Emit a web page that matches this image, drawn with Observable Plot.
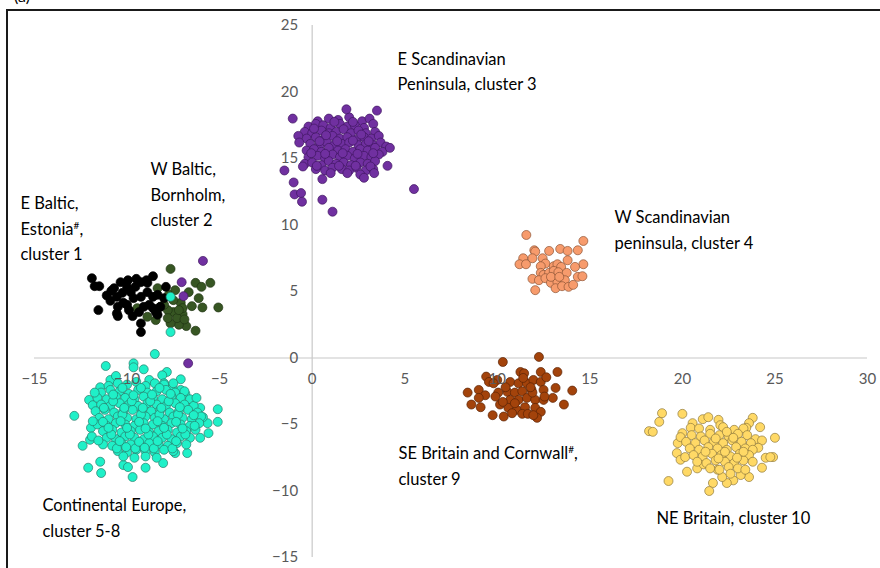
<!DOCTYPE html>
<html>
<head>
<meta charset="utf-8">
<script src="https://cdn.jsdelivr.net/npm/d3@7"></script>
<script src="https://cdn.jsdelivr.net/npm/@observablehq/plot@0.6"></script>
<style>
  html, body { margin: 0; padding: 0; background: #fff; overflow: hidden; }
  #wrap { position: relative; width: 880px; height: 568px; }
  #frame { position: absolute; left: 6px; top: 9px; width: 900px; height: 600px;
           border-left: 2px solid #1a1a1a; border-top: 2px solid #1a1a1a; box-sizing: border-box; }
  #tag { position: absolute; left: 14px; top: -14px; font: 16px Lato, sans-serif; color: #000; }
  #chart { position: absolute; left: 0; top: 0; }
</style>
</head>
<body>
<div id="wrap"><div id="tag">(a)</div><div id="frame"></div><div id="chart"></div></div>
<script>
const xTicks = [-15, -10, -5, 0, 5, 10, 15, 20, 25, 30];
const yTicks = [-15, -10, -5, 0, 5, 10, 15, 20, 25];

const labels = [
  {x: -15.76, y: 12.55, text: "E Baltic,\nEstonia#,\ncluster 1"},
  {x: -8.74, y: 15.1, text: "W Baltic,\nBornholm,\ncluster 2"},
  {x: 4.61, y: 23.4, text: "E Scandinavian\nPeninsula, cluster 3"},
  {x: 16.33, y: 11.5, text: "W Scandinavian\npeninsula, cluster 4"},
  {x: -14.57, y: -10.15, text: "Continental Europe,\ncluster 5-8"},
  {x: 4.66, y: -6.25, text: "SE Britain and Cornwall#,\ncluster 9"},
  {x: 18.6, y: -11.1, text: "NE Britain, cluster 10"}
];

// cluster 1: E Baltic, Estonia
const cluster1 = [[-11.9,6.0],[-11.75,5.4],[-11.5,5.4],[-10.85,5.05],[-11.55,3.6],[-10.55,3.35],[-10.5,3.15],
 [-9.95,5.85],[-9.5,5.95],[-8.95,5.85],[-8.6,6.15],[-9.7,3.15],[-9.25,2.6],[-9.25,1.95],[-10.55,4.6],[-10.25,4.9],
 [-10.2,4.15],[-9.8,4.95],[-9.55,5.35],[-9.25,4.6],[-8.9,4.95],[-8.6,4.6],[-8.35,4.75],[-8.0,4.5],[-7.9,5.35],
 [-9.1,3.85],[-8.8,4.0],[-8.6,3.75],[-8.35,3.25],[-8.45,3.45],[-10.5,3.85],[-10.0,4.0],[-9.65,4.5],[-8.9,5.65],
 [-9.25,5.7],[-10.35,5.7],[-10.7,5.25],[-9.35,3.45],[-10.0,5.35],[-8.2,3.85],[-11.1,4.7],[-10.9,4.3],[-9.9,3.6]];

// cluster 2: W Baltic, Bornholm
const cluster2 = [[-7.65,6.7],[-6.3,5.65],[-5.98,5.35],[-5.5,5.65],[-6.67,4.95],[-6.13,4.5],[-6.5,3.9],[-5.93,3.8],
 [-5.07,3.8],[-6.3,2.05],[-6.8,2.4],[-7.2,2.5],[-7.65,2.6],[-7.0,3.3],[-7.5,3.45],[-7.8,3.6],[-7.4,5.1],[-7.1,4.15],
 [-7.0,3.75],[-8.2,3.85],[-8.45,2.85],[-9.45,3.75],[-8.9,3.1],[-7.8,3.0],[-7.3,3.0],[-7.5,4.35],[-7.75,4.75],[-8.35,5.25],
 [-8.0,4.0],[-7.2,3.6],[-6.9,2.9]];

// cluster 3: E Scandinavian Peninsula
const cluster3 = [[0.3,17.8],[0.9,18.0],[1.4,17.9],[2.0,18.1],[2.7,17.8],[3.1,18.0],
 [-0.2,17.4],[0.2,17.6],[0.6,17.5],[1.0,17.3],[1.5,17.6],[1.9,17.4],[2.3,17.5],[2.8,17.3],[3.3,17.6],
 [-0.4,17.0],[0.0,16.9],[0.5,17.1],[0.9,16.9],[1.3,17.0],[1.7,17.2],[2.1,16.9],[2.5,17.1],[2.9,16.9],[3.4,17.0],
 [-0.3,16.5],[0.2,16.6],[0.6,16.4],[1.1,16.7],[1.5,16.5],[1.9,16.6],[2.4,16.4],[2.8,16.6],[3.2,16.5],[3.6,16.7],
 [-0.1,16.1],[0.4,16.0],[0.8,16.2],[1.2,16.0],[1.6,16.1],[2.0,16.2],[2.5,16.0],[2.9,16.1],[3.3,16.0],[3.7,16.2],[4.0,15.9],
 [-0.3,15.6],[0.1,15.7],[0.5,15.5],[0.9,15.8],[1.4,15.6],[1.8,15.7],[2.2,15.5],[2.6,15.7],[3.0,15.6],[3.4,15.8],[3.8,15.5],
 [-0.2,15.1],[0.3,15.2],[0.7,15.0],[1.1,15.3],[1.5,15.1],[1.9,15.2],[2.3,15.0],[2.8,15.2],[3.2,15.1],[3.6,15.3],
 [-0.4,14.6],[0.0,14.7],[0.5,14.5],[0.9,14.8],[1.3,14.6],[1.7,14.7],[2.1,14.5],[2.6,14.7],[3.0,14.6],[3.4,14.8],
 [0.2,14.2],[0.7,14.1],[1.1,14.3],[1.6,14.2],[2.0,14.1],[2.4,14.3],[2.9,14.1],[3.3,14.2],
 [1.0,13.9],[1.9,13.9],[2.6,13.8],
 [0.1,17.25],[1.2,17.75],[2.2,17.75],[0.4,16.3],[1.35,16.3],[2.2,16.35],[3.05,16.3],[0.7,15.35],[1.65,15.4],[2.45,15.35],
 [3.3,15.4],[0.25,14.45],[1.45,14.45],[2.35,14.45],[3.15,14.4],[-0.05,15.4],[0.75,16.75],[2.65,16.8],
 [-1.05,18.0],[-1.5,14.1],[-1.0,13.2],[-0.95,12.3],[-0.6,12.4],[-0.55,11.75],[0.55,11.9],[1.1,11.0],[5.5,12.7],
 [3.5,18.6],[1.85,18.7],[4.07,14.45],[4.2,15.8],[0.55,13.45],[-0.75,16.7],[-0.7,16.2],[-0.5,14.4],[3.35,13.9],[2.8,13.55],
 [-5.9,7.3],[-7.05,5.7],[-6.95,4.65],[-6.7,-0.4]];

// cluster 4: W Scandinavian peninsula
const cluster4 = [[11.57,9.25],[14.65,8.8],[12.0,8.1],[12.05,8.0],[12.8,8.05],[13.4,8.2],[13.8,8.05],[14.35,8.1],
 [11.4,7.5],[11.9,7.5],[11.2,7.05],[11.55,7.05],[12.45,7.5],[12.6,7.1],[13.8,7.35],[14.65,7.05],[14.2,6.85],[12.35,6.9],
 [13.05,6.9],[13.25,7.05],[13.45,6.85],[12.35,6.4],[12.5,6.25],[12.8,6.4],[13.05,6.55],[13.3,6.45],[13.75,6.4],[11.9,5.95],
 [12.25,5.85],[12.6,6.0],[12.9,5.65],[13.25,5.7],[13.65,5.85],[14.35,6.1],[14.6,6.15],[12.05,5.1],[13.15,5.25],[13.5,5.4],
 [13.85,5.35],[14.1,5.5],[12.9,6.1],[13.35,6.1]];

// clusters 5-8: Continental Europe
const continental = [[-8.5,0.3],[-11.15,-0.6],[-9.65,-0.4],[-9.65,-0.7],[-9.1,-0.85],[-7.85,-1.05],[-8.1,-1.3],[-7.1,-1.6],
 [-12.85,-4.35],[-12.4,-6.6],[-12.1,-8.25],[-11.4,-8.65],[-11.45,-7.8],[-10.2,-8.05],[-9.7,-8.95],[-9.95,-8.2],[-9.0,-8.25],
 [-8.05,-7.9],[-5.1,-3.85],[-5.1,-4.8],[-5.6,-5.65],[-6.05,-6.0],[-6.05,-3.75],[-6.45,-3.2],[-6.85,-2.7],[-7.1,-2.4],
 [-7.55,-2.2],[-5.65,-4.9],[-5.9,-4.45],[-6.75,-7.15],[-7.4,-7.15],[-12.0,-6.15],[-11.95,-5.25],[-12.05,-3.15],[-11.85,-3.55],
 [-11.45,-2.2],[-10.9,-1.65],[-10.6,-1.35],[-8.8,-1.65],[-8.0,-1.9],[-7.65,4.6],[-7.65,1.95],
 [-11.0,-2.1],[-10.5,-1.9],[-10.0,-2.0],[-9.5,-1.8],[-9.0,-2.1],[-8.5,-1.9],[-8.0,-2.0],[-7.5,-1.9],
 [-11.4,-2.6],[-10.9,-2.4],[-10.4,-2.5],[-9.9,-2.7],[-9.4,-2.4],[-8.9,-2.6],[-8.4,-2.5],[-7.9,-2.4],[-7.4,-2.6],[-6.9,-2.5],
 [-11.6,-3.0],[-11.1,-3.1],[-10.6,-2.9],[-10.1,-3.0],[-9.6,-3.1],[-9.1,-2.9],[-8.6,-3.0],[-8.1,-3.1],[-7.6,-2.9],[-7.1,-3.0],[-6.6,-3.1],
 [-11.4,-3.5],[-10.9,-3.6],[-10.4,-3.4],[-9.9,-3.5],[-9.4,-3.6],[-8.9,-3.4],[-8.4,-3.5],[-7.9,-3.6],[-7.4,-3.4],[-6.9,-3.5],[-6.4,-3.6],
 [-11.7,-4.0],[-11.2,-3.9],[-10.7,-4.1],[-10.2,-4.0],[-9.7,-3.9],[-9.2,-4.1],[-8.7,-4.0],[-8.2,-3.9],[-7.7,-4.1],[-7.2,-4.0],[-6.7,-3.9],[-6.2,-4.1],
 [-11.5,-4.5],[-11.0,-4.6],[-10.5,-4.4],[-10.0,-4.5],[-9.5,-4.6],[-9.0,-4.4],[-8.5,-4.5],[-8.0,-4.6],[-7.5,-4.4],[-7.0,-4.5],[-6.5,-4.6],[-6.0,-4.4],
 [-11.6,-5.0],[-11.1,-5.1],[-10.6,-4.9],[-10.1,-5.0],[-9.6,-5.1],[-9.1,-4.9],[-8.6,-5.0],[-8.1,-5.1],[-7.6,-4.9],[-7.1,-5.0],[-6.6,-5.1],[-6.1,-4.9],
 [-11.3,-5.5],[-10.8,-5.4],[-10.3,-5.6],[-9.8,-5.5],[-9.3,-5.4],[-8.8,-5.6],[-8.3,-5.5],[-7.8,-5.4],[-7.3,-5.6],[-6.8,-5.5],[-6.3,-5.4],
 [-11.1,-6.0],[-10.6,-6.1],[-10.1,-5.9],[-9.6,-6.0],[-9.1,-6.1],[-8.6,-5.9],[-8.1,-6.0],[-7.6,-6.1],[-7.1,-5.9],[-6.6,-6.0],
 [-11.3,-6.5],[-10.8,-6.6],[-10.3,-6.4],[-9.8,-6.5],[-9.3,-6.6],[-8.8,-6.4],[-8.3,-6.5],[-7.8,-6.6],[-7.3,-6.4],[-6.8,-6.5],
 [-10.5,-7.0],[-10.0,-7.1],[-9.5,-6.9],[-9.0,-7.0],[-8.5,-7.1],[-8.0,-6.9],[-7.5,-7.0],
 [-10.2,-7.4],[-9.6,-7.5],[-9.0,-7.4],[-8.4,-7.5],
 [-11.75,-2.6],[-10.75,-3.25],[-9.75,-3.25],[-8.75,-3.25],[-7.75,-3.25],[-10.25,-4.25],[-9.25,-4.25],[-8.25,-4.25],[-7.25,-4.25],
 [-10.85,-5.75],[-9.85,-5.75],[-8.85,-5.75],[-7.85,-5.75],[-6.85,-5.75],[-10.55,-6.8],[-9.55,-6.8],[-8.55,-6.8],[-7.55,-6.8],
 [-9.25,-2.25],[-10.25,-2.25],[-8.25,-2.25],[-11.85,-4.75],[-11.9,-5.9],[-6.35,-5.1],[-6.25,-3.0],
 [-10.75,-2.75],[-9.65,-2.8],[-8.65,-2.75],[-7.65,-2.7],[-11.25,-3.75],[-10.15,-3.75],[-9.15,-3.75],[-8.15,-3.75],[-7.15,-3.7],
 [-11.3,-4.8],[-10.35,-4.75],[-9.35,-4.8],[-8.35,-4.75],[-7.35,-4.8],[-6.4,-4.3],[-11.0,-5.25],[-10.0,-5.25],[-9.0,-5.3],
 [-8.0,-5.25],[-7.0,-5.3],[-10.4,-6.25],[-9.35,-6.3],[-8.35,-6.25],[-7.35,-6.25],[-11.55,-6.2],[-10.05,-6.7],[-9.05,-6.75]];

// cluster 9: SE Britain and Cornwall
const cluster9 = [[12.25,0.08],[10.3,-0.3],[11.25,-1.05],[11.45,-1.15],[12.35,-1.05],[13.25,-1.05],[9.4,-1.4],[9.55,-1.8],
 [10.0,-1.65],[10.7,-1.8],[11.15,-1.9],[11.6,-1.9],[11.95,-1.65],[12.35,-1.8],[12.65,-1.45],[8.4,-2.6],[9.0,-2.4],[9.35,-2.8],
 [9.0,-3.0],[8.6,-3.5],[9.1,-3.7],[9.75,-4.3],[10.35,-4.4],[10.05,-2.6],[10.55,-2.55],[10.95,-2.6],[11.35,-2.5],[11.85,-2.4],
 [12.5,-2.4],[13.15,-2.25],[14.05,-2.45],[13.0,-3.0],[13.6,-3.5],[10.15,-3.5],[10.7,-3.15],[11.15,-3.15],[11.6,-3.0],[12.05,-3.15],
 [12.5,-3.15],[10.6,-3.75],[11.05,-3.9],[11.5,-3.7],[12.05,-3.75],[12.35,-4.05],[10.8,-4.15],[11.35,-4.2],[11.65,-4.2],[12.15,-4.5],
 [11.95,-4.3],[10.95,-3.4],[11.9,-2.6],[10.45,-2.2],[11.4,-1.5],[11.8,-2.2],[12.55,-2.9],[9.8,-1.9],[9.9,-2.9],[10.3,-3.3]];

// cluster 10: NE Britain
const cluster10 = [[18.9,-4.15],[18.75,-4.8],[20.0,-4.2],[18.2,-5.5],[18.4,-5.55],[19.25,-9.25],[21.1,-4.6],[21.4,-4.45],
 [21.95,-4.65],[22.05,-5.05],[20.55,-4.9],[20.45,-5.25],[20.0,-5.65],[19.75,-6.4],[19.9,-5.95],[19.7,-7.15],[19.9,-7.65],
 [20.15,-7.45],[20.25,-8.55],[23.8,-4.5],[23.6,-4.9],[24.2,-5.2],[23.45,-5.25],[25.0,-6.0],[23.95,-6.1],[24.3,-6.2],[24.1,-6.75],
 [24.5,-7.5],[24.9,-7.45],[24.75,-7.45],[24.3,-8.25],[23.6,-8.95],[22.75,-9.2],[22.4,-9.4],[22.15,-8.95],[21.65,-9.4],[21.45,-10.0],
 [23.15,-8.8],[21.9,-8.4],[20.8,-8.3],[21.15,-8.0],
 [20.9,-5.3],[21.5,-5.4],[22.2,-5.2],[22.8,-5.4],[23.3,-5.3],
 [20.5,-5.8],[21.0,-5.9],[21.5,-5.7],[22.0,-5.8],[22.5,-5.9],[23.0,-5.7],[23.5,-5.8],
 [20.2,-6.3],[20.7,-6.4],[21.2,-6.2],[21.7,-6.3],[22.2,-6.4],[22.7,-6.2],[23.2,-6.3],[23.7,-6.4],
 [20.4,-6.8],[20.9,-6.9],[21.4,-6.7],[21.9,-6.8],[22.4,-6.9],[22.9,-6.7],[23.4,-6.8],[23.8,-6.9],
 [20.6,-7.3],[21.1,-7.4],[21.6,-7.2],[22.1,-7.3],[22.6,-7.4],[23.1,-7.2],[23.6,-7.3],
 [20.8,-7.8],[21.3,-7.9],[21.8,-7.7],[22.3,-7.8],[22.8,-7.9],[23.3,-7.7],[23.8,-7.8],
 [21.5,-8.3],[22.0,-8.4],[22.5,-8.2],[23.0,-8.3],[23.4,-8.4],
 [21.8,-6.05],[22.75,-6.0],[21.25,-7.05],[22.3,-7.05],[23.3,-7.05],[21.95,-7.55],[22.95,-7.5],[22.4,-5.55],[22.6,-8.7]];

const series = [
  {data: cluster2, fill: "#375623", stroke: "#1f3312"},
  {data: cluster1, fill: "#000000", stroke: "#000000"},
  {data: cluster3, fill: "#7030a0", stroke: "#3f1660"},
  {data: cluster4, fill: "#f79b6c", stroke: "#8c5536"},
  {data: continental, fill: "#1ff0c8", stroke: "#2a7d6b"},
  {data: cluster9, fill: "#a3430b", stroke: "#5a2204"},
  {data: cluster10, fill: "#ffd966", stroke: "#8f7a3e"}
];

const fmt = d => d < 0 ? "\u2212" + Math.abs(d) : String(d);

const chart = Plot.plot({
  width: 880,
  height: 568,
  marginLeft: 34,
  marginRight: 13,
  marginTop: 25,
  marginBottom: 11,
  x: {domain: [-15, 30], axis: null},
  y: {domain: [-15, 25], axis: null},
  style: {fontFamily: "Lato, sans-serif", background: "transparent", overflow: "visible"},
  marks: [
    Plot.ruleY([0], {x1: -15, x2: 30, stroke: "#c8c8c8", strokeWidth: 1.2}),
    Plot.ruleX([0], {y1: -15, y2: 25, stroke: "#c8c8c8", strokeWidth: 1.2}),
    ...series.map(s => Plot.dot(s.data, {x: d => d[0], y: d => d[1], r: 4.5, fill: s.fill, stroke: s.stroke, strokeWidth: 0.7})),
    Plot.text(xTicks, {x: d => d, y: 0, dy: 21, text: fmt, fill: "#595959", fontSize: 15}),
    Plot.text(yTicks, {x: 0, y: d => d, dx: -14, textAnchor: "end", text: fmt, fill: "#595959", fontSize: 15}),
    Plot.text(labels, {x: "x", y: "y", text: "text", textAnchor: "start", lineAnchor: "top", lineHeight: 1.55, fontSize: 16.5, fill: "#000"})
  ]
});

document.getElementById("chart").appendChild(chart);

// superscript the "#" marks
d3.select(chart).selectAll("tspan, text").each(function() {
  const el = d3.select(this);
  if (this.childElementCount > 0) return;
  const t = this.textContent;
  const i = t.indexOf("#");
  if (i < 0) return;
  el.text(t.slice(0, i));
  el.append("tspan").attr("baseline-shift", "super").attr("font-size", "10px").text("#");
  el.append("tspan").text(t.slice(i + 1));
});
</script>
</body>
</html>
